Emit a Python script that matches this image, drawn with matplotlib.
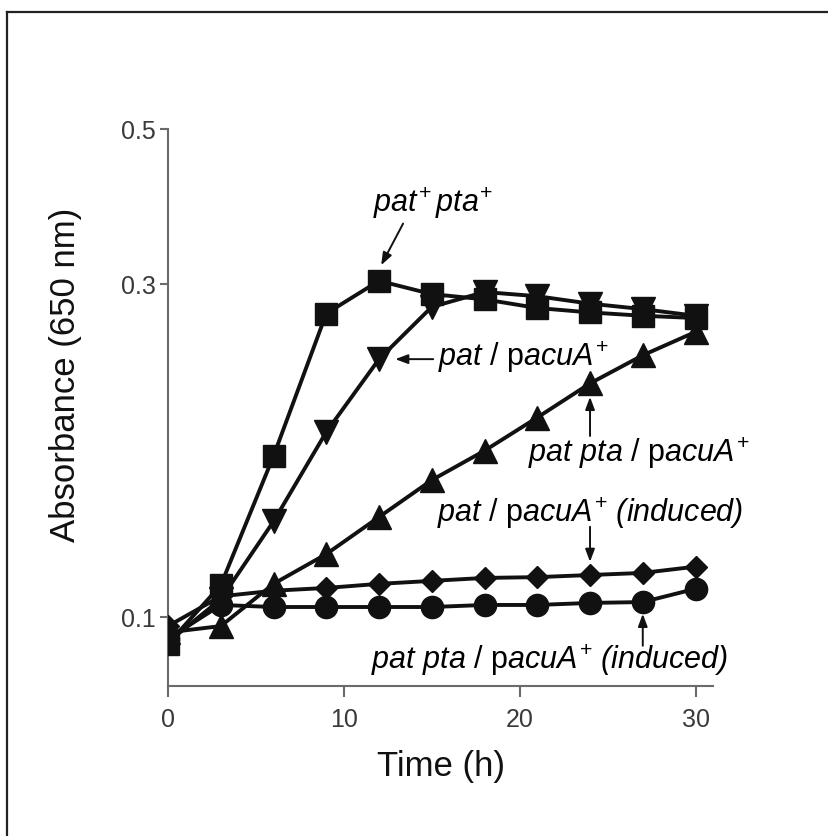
"""Growth curves (absorbance vs time) for the pat / pta / pacuA strains."""
import matplotlib

matplotlib.use("Agg")
import matplotlib.pyplot as plt
from matplotlib.lines import Line2D

plt.rcParams["font.family"] = ["Liberation Sans", "DejaVu Sans"]
plt.rcParams["mathtext.fontset"] = "custom"
plt.rcParams["mathtext.rm"] = "Liberation Sans"
plt.rcParams["mathtext.it"] = "Liberation Sans:italic"
# \mathbf is borrowed for italic text that must include italic parentheses
plt.rcParams["mathtext.bf"] = "Liberation Sans:italic"

TIME = [0, 3, 6, 9, 12, 15, 18, 21, 24, 27, 30]
PAT_PTA_WT = [0.0915, 0.111, 0.170, 0.272, 0.303, 0.290, 0.285, 0.277, 0.273, 0.270, 0.268]
PAT_PACUA = [0.092, 0.106, 0.137, 0.184, 0.234, 0.278, 0.292, 0.288, 0.281, 0.276, 0.270]
PATPTA_PACUA = [0.095, 0.097, 0.1115, 0.123, 0.139, 0.157, 0.173, 0.193, 0.216, 0.237, 0.256]
PAT_PACUA_IND = [0.097, 0.107, 0.109, 0.110, 0.1115, 0.1126, 0.1137, 0.114, 0.1148, 0.1156, 0.118]
PATPTA_PACUA_IND = [0.093, 0.104, 0.1033, 0.1033, 0.1033, 0.1033, 0.104, 0.104, 0.1047, 0.105, 0.1097]

Y_TICKS = [0.1, 0.3, 0.5]
X_TICKS = [0, 10, 20, 30]

INK = "#111111"
AXIS = "#6a6a6a"

fig = plt.figure(figsize=(8.29, 8.37), dpi=100)
ax = fig.add_axes([0.2027, 0.1792, 0.6575, 0.6655])

common = dict(color=INK, lw=2.8, zorder=3)
ax.plot(TIME, PATPTA_PACUA_IND, marker="o", ms=16, **common)
ax.plot(TIME, PAT_PACUA_IND, marker="D", ms=11.5, **common)
ax.plot(TIME, PATPTA_PACUA, marker="^", ms=17, **common)
ax.plot(TIME, PAT_PACUA, marker="v", ms=17, **common)
ax.plot(TIME, PAT_PTA_WT, marker="s", ms=16, **common)

ax.set_yscale("log")
ax.set_ylim(0.0796, 0.5)
ax.set_xlim(0, 31)
ax.set_yticks(Y_TICKS)
ax.set_yticklabels(["0.1", "0.3", "0.5"])
ax.yaxis.set_minor_locator(matplotlib.ticker.NullLocator())
ax.set_xticks(X_TICKS)
ax.set_xticklabels([str(t) for t in X_TICKS])

for side in ("top", "right"):
    ax.spines[side].set_visible(False)
for side in ("left", "bottom"):
    ax.spines[side].set_color(AXIS)
    ax.spines[side].set_linewidth(1.5)
ax.tick_params(axis="both", colors=AXIS, labelcolor="#3a3a3a", labelsize=18,
               width=1.5, direction="out")
ax.tick_params(axis="y", length=6, pad=3)
ax.tick_params(axis="x", length=8, pad=7)

ax.set_xlabel("Time (h)", fontsize=25, color="#111111", labelpad=13)
ax.set_ylabel("Absorbance (650 nm)", fontsize=25, color="#111111")
ax.yaxis.set_label_coords(-0.158, 0.56)

# annotations
arrow = dict(arrowstyle="-|>,head_length=0.75,head_width=0.28", lw=1.4,
             color=INK, shrinkA=0, shrinkB=0)
tsize = 22

ax.text(15.08, 0.393, r"$\mathit{pat}^{+}\,\mathit{pta}^{+}$", fontsize=tsize,
        ha="center", va="center")
ax.annotate("", xy=(12.12, 0.319), xytext=(13.37, 0.366), arrowprops=arrow)

ax.text(15.37, 0.2365, r"$\mathit{pat}$ / p$\mathit{acuA}^{+}$", fontsize=tsize,
        ha="left", va="center")
ax.annotate("", xy=(12.92, 0.234), xytext=(15.08, 0.234), arrowprops=arrow)

ax.text(26.75, 0.1724, r"$\mathit{pat\ pta}$ / p$\mathit{acuA}^{+}$", fontsize=tsize,
        ha="center", va="center")
ax.annotate("", xy=(24, 0.2066), xytext=(24, 0.1816), arrowprops=arrow)

ax.text(24.0, 0.1414, r"$\mathit{pat}$ / p$\mathit{acuA}^{+}$ $\mathbf{(induced)}$",
        fontsize=tsize, ha="center", va="center")
ax.annotate("", xy=(24, 0.1199), xytext=(24, 0.1346), arrowprops=arrow)

ax.text(21.7, 0.0870, r"$\mathit{pat\ pta}$ / p$\mathit{acuA}^{+}$ $\mathbf{(induced)}$",
        fontsize=tsize, ha="center", va="center")
ax.annotate("", xy=(27, 0.101), xytext=(27, 0.0909), arrowprops=arrow)

# frame edge visible at top and left of the original scan
fw, fh = 829, 837
fig.add_artist(Line2D([7 / fw, 1], [1 - 12.5 / fh, 1 - 12.5 / fh],
                      transform=fig.transFigure, color="#222222", lw=1.6))
fig.add_artist(Line2D([7 / fw, 7 / fw], [0, 1 - 12.5 / fh],
                      transform=fig.transFigure, color="#222222", lw=1.6))

fig.savefig("out.png", dpi=100)
